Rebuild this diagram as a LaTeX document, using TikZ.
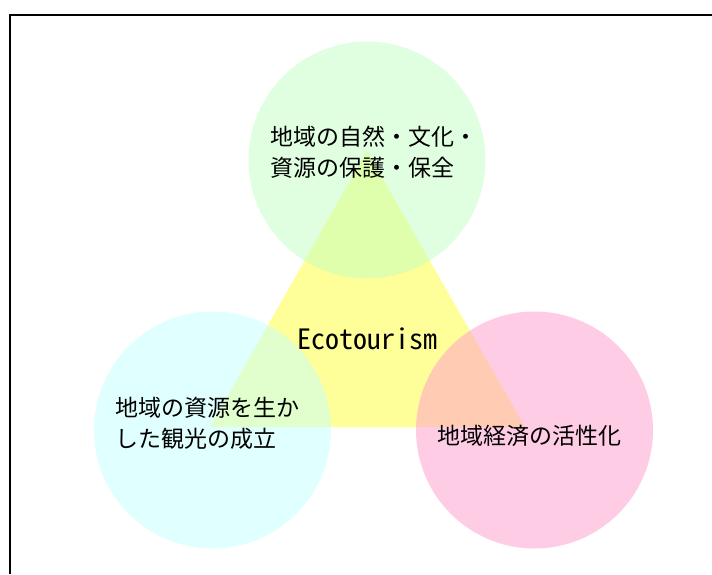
\documentclass[tikz,border=0pt]{standalone}
\usepackage{fontspec}
\setmainfont{Noto Sans CJK JP}
\definecolor{triyellow}{HTML}{FFFF99}
\definecolor{cgreen}{HTML}{C2FFC2}
\definecolor{ccyan}{HTML}{C2FFFF}
\definecolor{cpink}{HTML}{FF99CC}
\tikzset{
  bubble/.style={circle, minimum size=237pt, inner sep=0pt, fill opacity=0.5},
  label/.style={anchor=west, inner sep=0pt, align=left, font=\fontsize{23}{31}\selectfont},
}
\begin{document}
\begin{tikzpicture}[x=1pt,y=-1pt]
\useasboundingbox (0,0) rectangle (712,574);
\draw[line width=2pt] (10,574) -- (10,15) -- (712,15);
% triangle
\coordinate (ta) at (367,151);
\coordinate (tl) at (210,427);
\coordinate (tr) at (525,427);
\fill[triyellow] (ta) -- (tl) -- (tr) -- cycle;
% circles
\node[bubble, fill=cgreen] (top) at (367,160) {};
\node[bubble, fill=ccyan] (left) at (212.5,430) {};
\node[bubble, fill=cpink] (right) at (534.5,430) {};
% texts
\node[label] (ttop) at (270,152) {地域の自然・文化・\\資源の保護・保全};
\node[label] (tleft) at (115,423) {地域の資源を生か\\した観光の成立};
\node[label] (tright) at (437,436) {地域経済の活性化};
\node[inner sep=0pt, font=\fontsize{28}{30}\selectfont\addfontfeatures{RawFeature=+hwid}] (eco) at (367,339) {Ecotourism};
\end{tikzpicture}
\end{document}
